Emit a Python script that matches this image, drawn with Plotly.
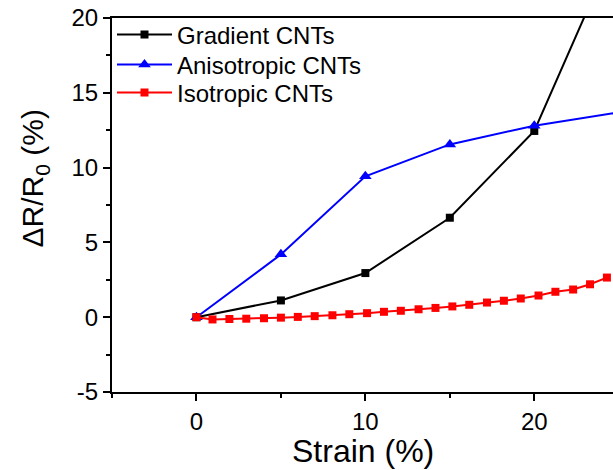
import plotly.graph_objects as go

# Data
grad_x = [0, 5, 10, 15, 20, 25]
grad_y = [0, 1.12, 2.95, 6.65, 12.45, 25.3]

aniso_x = [0, 5, 10, 15, 20, 25]
aniso_y = [0, 4.2, 9.42, 11.55, 12.8, 13.7]

iso_x = [0, 0.95, 1.95, 2.95, 4.0, 5.0, 6.0, 7.0, 8.05, 9.05, 10.1, 11.1, 12.1,
         13.15, 14.15, 15.15, 16.15, 17.2, 18.2, 19.2, 20.25, 21.25, 22.3, 23.3, 24.3]
iso_y = [0, -0.15, -0.12, -0.1, -0.07, -0.03, 0.02, 0.07, 0.13, 0.2, 0.27, 0.36, 0.43,
         0.53, 0.62, 0.72, 0.83, 0.98, 1.1, 1.25, 1.45, 1.7, 1.85, 2.2, 2.65]

names = ["Gradient CNTs", "Anisotropic CNTs", "Isotropic CNTs"]

y_tickvals = [-5, 0, 5, 10, 15, 20]
y_ticktext = ["-5", "0", "5", "10", "15", "20"]

FONT = "Liberation Sans, Arial, sans-serif"

fig = go.Figure()
fig.add_trace(go.Scatter(x=grad_x, y=grad_y, name=names[0], mode="lines+markers",
                         line=dict(color="black", width=2), legend="legend",
                         marker=dict(symbol="square", size=8, color="black")))
fig.add_trace(go.Scatter(x=aniso_x, y=aniso_y, name=names[1], mode="lines+markers",
                         line=dict(color="#0000ff", width=2), legend="legend2",
                         marker=dict(symbol="triangle-up", size=11, color="#0000ff")))
fig.add_trace(go.Scatter(x=iso_x, y=iso_y, name=names[2], mode="lines+markers",
                         line=dict(color="#ff0000", width=2), legend="legend3",
                         marker=dict(symbol="square", size=8, color="#ff0000")))

def leg(yc):
    return dict(x=0.0, y=yc, xanchor="left", yanchor="middle",
                bgcolor="rgba(0,0,0,0)", font=dict(size=24, family=FONT),
                itemwidth=55)

fig.update_layout(
    width=613, height=470,
    margin=dict(l=112, r=0, t=18, b=78),
    plot_bgcolor="white", paper_bgcolor="white",
    font=dict(family=FONT, color="black", size=24),
    showlegend=True,
    legend=leg(0.9545), legend2=leg(0.8743), legend3=leg(0.7995),
    annotations=[
        dict(text="ΔR/R<sub>0</sub> (%)", textangle=-90,
             xref="paper", yref="paper", x=-0.155, y=0.572,
             xanchor="center", yanchor="middle", showarrow=False,
             font=dict(size=30, family=FONT)),
        dict(text="Strain (%)", xref="paper", yref="paper", x=0.5, y=-0.157,
             xanchor="center", yanchor="middle", showarrow=False,
             font=dict(size=32, family=FONT)),
    ],
)

fig.update_xaxes(
    range=[-5, 24.66], showline=True, linecolor="black", linewidth=2, mirror=True,
    ticks="outside", ticklen=7, tickwidth=1.5, tickcolor="black",
    tick0=0, dtick=10, showgrid=False, zeroline=False,
    tickfont=dict(size=24, family=FONT),
    minor=dict(dtick=5, tick0=0, ticks="outside", ticklen=4, tickwidth=1.5,
               tickcolor="black", showgrid=False),
)
fig.update_yaxes(
    range=[-5, 20], showline=True, linecolor="black", linewidth=2, mirror=False,
    ticks="outside", ticklen=7, tickwidth=1.5, tickcolor="black",
    tickmode="array", tickvals=y_tickvals, ticktext=y_ticktext,
    showgrid=False, zeroline=False,
    tickfont=dict(size=24, family=FONT),
    minor=dict(dtick=2.5, tick0=0, ticks="outside", ticklen=4, tickwidth=1.5,
               tickcolor="black", showgrid=False),
)

fig.write_html("out.html", config={"displayModeBar": False},
               post_script="document.body.style.margin='0';")
